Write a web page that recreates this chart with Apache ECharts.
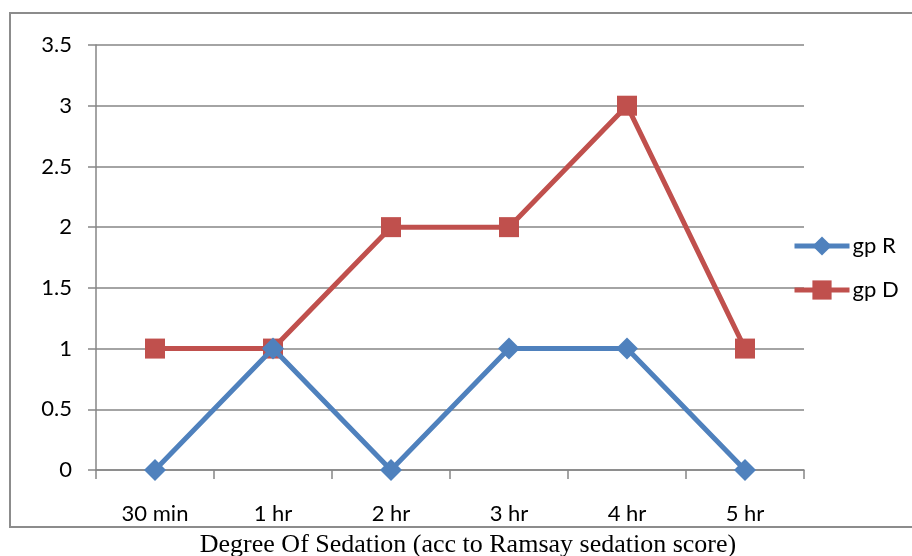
<!DOCTYPE html>
<html>
<head>
<meta charset="utf-8">
<script src="https://cdn.jsdelivr.net/npm/echarts@6/dist/echarts.min.js"></script>
<style>html,body{margin:0;padding:0;background:#fff;}#c{width:912px;height:556px;}</style>
</head>
<body>
<div id="c"></div>
<script>
var categories = ['30 min', '1 hr', '2 hr', '3 hr', '4 hr', '5 hr'];
var gpR = [0, 1, 0, 1, 1, 0];
var gpD = [1, 1, 2, 2, 3, 1];
var seriesNames = ['gp R', 'gp D'];
var xTitle = 'Degree Of Sedation (acc to Ramsay sedation score)';

var chart = echarts.init(document.getElementById('c'));
var font = 'Lato, "Open Sans", sans-serif';
chart.setOption({
  animation: false,
  backgroundColor: '#fff',
  grid: {left: 96, top: 45, right: 108, bottom: 86},
  legend: {
    orient: 'vertical', left: 792, top: 235, itemGap: 22, padding: 0,
    itemWidth: 55, itemHeight: 24,
    lineStyle: {width: 5},
    textStyle: {fontFamily: font, fontSize: 22, color: '#000', padding: [0,0,0,-2]},
    data: seriesNames
  },
  xAxis: {
    type: 'category', data: categories, boundaryGap: true,
    axisLine: {lineStyle: {color: '#868686', width: 1.5}},
    axisTick: {show: true, length: 9, lineStyle: {color: '#868686', width: 1.5}},
    axisLabel: {color: '#000', fontFamily: font, fontSize: 22, margin: 33}
  },
  yAxis: {
    type: 'value', min: 0, max: 3.5, interval: 0.5,
    axisLine: {show: true, lineStyle: {color: '#868686', width: 1.5}},
    axisTick: {show: true, length: 8, lineStyle: {color: '#868686', width: 1.5}},
    splitLine: {lineStyle: {color: '#868686', width: 1.5}},
    axisLabel: {color: '#000', fontFamily: font, fontSize: 22, margin: 24}
  },
  graphic: [
    {type: 'rect', shape: {x: 10, y: 13, width: 920, height: 514}, style: {fill: 'none', stroke: '#8c8c8c', lineWidth: 2}, silent: true, z: -1},
    {type: 'text', x: 468, y: 545, style: {text: xTitle, font: '26px "Liberation Serif", "Times New Roman", serif', fill: '#000', align: 'center', verticalAlign: 'middle'}}
  ],
  series: [
    {name: seriesNames[0], type: 'line', data: gpR, symbol: 'path://M0,-1L1,0L0,1L-1,0Z', symbolSize: 22,
     lineStyle: {color: '#4F81BD', width: 5}, itemStyle: {color: '#4F81BD'}, z: 3},
    {name: seriesNames[1], type: 'line', data: gpD, symbol: 'rect', symbolSize: 20,
     lineStyle: {color: '#C0504D', width: 5}, itemStyle: {color: '#C0504D'}, z: 2}
  ]
});
</script>
</body>
</html>
